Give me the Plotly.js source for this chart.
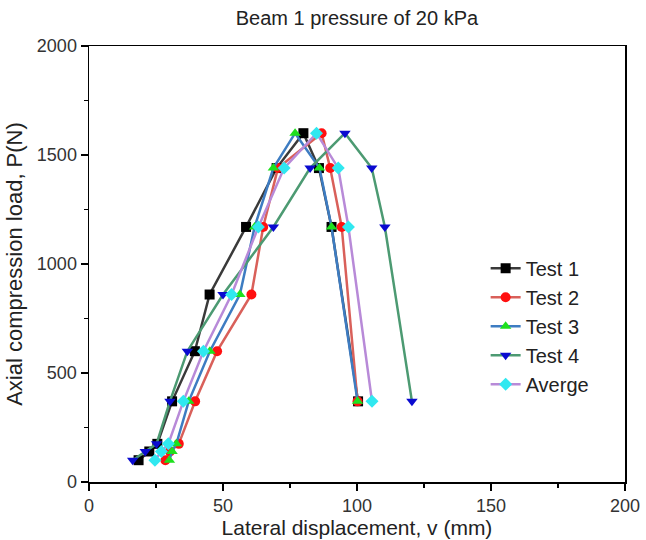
<!DOCTYPE html>
<html>
<head>
<meta charset="utf-8">
<script src="https://cdn.plot.ly/plotly-3.0.1.min.js"></script>
<style>html,body{margin:0;padding:0;background:#fff;}#chart{width:646px;height:540px;}</style>
</head>
<body>
<div id="chart"></div>
<script>
// Load levels (N) shared by all tests
var loadLevels = [100, 140, 175, 370, 600, 860, 1170, 1440, 1600, 1440, 1170, 370];
// Lateral displacement (mm) for each series
var test1 = [18.5, 22.5, 25.5, 31.0, 39.5, 45.0, 58.6, 70.0, 80.0, 85.8, 90.5, 100.4];
var test2 = [28.5, 30.2, 33.5, 39.6, 47.8, 60.6, 65.0, 70.5, 86.8, 90.0, 94.3, 100.2];
var test3 = [30.0, 31.0, 32.6, 37.2, 45.1, 56.3, 61.8, 68.8, 76.9, 86.0, 90.5, 100.2];
var test4 = [16.3, 21.0, 25.2, 30.2, 36.7, 50.0, 68.8, 82.5, 95.5, 105.5, 110.4, 120.5];
var averge = [24.6, 27.0, 29.6, 35.2, 42.7, 53.2, 63.2, 72.8, 84.9, 93.0, 96.8, 105.6];
var seriesNames = ['Test 1', 'Test 2', 'Test 3', 'Test 4', 'Averge'];
var xTicks = [0, 50, 100, 150, 200];
var yTicks = [0, 500, 1000, 1500, 2000];

var styles = [
  {line: '#3a3a3a', marker: '#000000', symbol: 'square'},
  {line: '#d9605a', marker: '#ff1010', symbol: 'circle'},
  {line: '#3d7cc2', marker: '#1ee01e', symbol: 'triangle-up'},
  {line: '#4c9a72', marker: '#0a0ad0', symbol: 'triangle-down'},
  {line: '#b88ad8', marker: '#30e8f0', symbol: 'diamond'}
];
var allX = [test1, test2, test3, test4, averge];
var traces = allX.map(function (xs, i) {
  return {
    x: xs, y: loadLevels, name: seriesNames[i], type: 'scatter', mode: 'lines+markers',
    line: {color: styles[i].line, width: 2.5},
    marker: {color: styles[i].marker, symbol: styles[i].symbol, size: 10,
             line: {width: 0}}
  };
});

var font = 'Liberation Sans, Arial, sans-serif';
var layout = {
  width: 646, height: 540,
  margin: {l: 89, r: 21, t: 46, b: 58},
  paper_bgcolor: '#fff', plot_bgcolor: '#fff',
  font: {family: font, color: '#222'},
  title: {text: 'Beam 1 pressure of 20 kPa', font: {size: 20, family: font, color: '#222'},
          x: 0.5525, xanchor: 'center', y: 0.966, yanchor: 'middle'},
  xaxis: {
    range: [0, 200], tickvals: xTicks, ticks: 'outside', ticklen: 7, tickwidth: 1.5,
    tickcolor: '#000', showline: true, linecolor: '#000', linewidth: 1.5, mirror: true,
    showgrid: false, zeroline: false, tickfont: {size: 18, color: '#333'},
    minor: {dtick: 25, ticks: 'outside', ticklen: 4, tickwidth: 1.5, tickcolor: '#000', showgrid: false},
    title: {text: 'Lateral displacement, v (mm)', font: {size: 21, color: '#222'}, standoff: 4}
  },
  yaxis: {
    range: [0, 2000], tickvals: yTicks, ticks: 'outside', ticklen: 7, tickwidth: 1.5,
    tickcolor: '#000', showline: true, linecolor: '#000', linewidth: 1.5, mirror: true,
    showgrid: false, zeroline: false, tickfont: {size: 18, color: '#333'},
    minor: {dtick: 250, ticks: 'outside', ticklen: 4, tickwidth: 1.5, tickcolor: '#000', showgrid: false},
    title: {text: 'Axial compression load, P(N)', font: {size: 22, color: '#222'}, standoff: 8}
  },
  legend: {x: 0.74, y: 0.535, xanchor: 'left', yanchor: 'top', bgcolor: 'rgba(0,0,0,0)',
           font: {size: 20, color: '#222'}, borderwidth: 0}
};
Plotly.newPlot('chart', traces, layout, {displayModeBar: false, staticPlot: true});
</script>
</body>
</html>
